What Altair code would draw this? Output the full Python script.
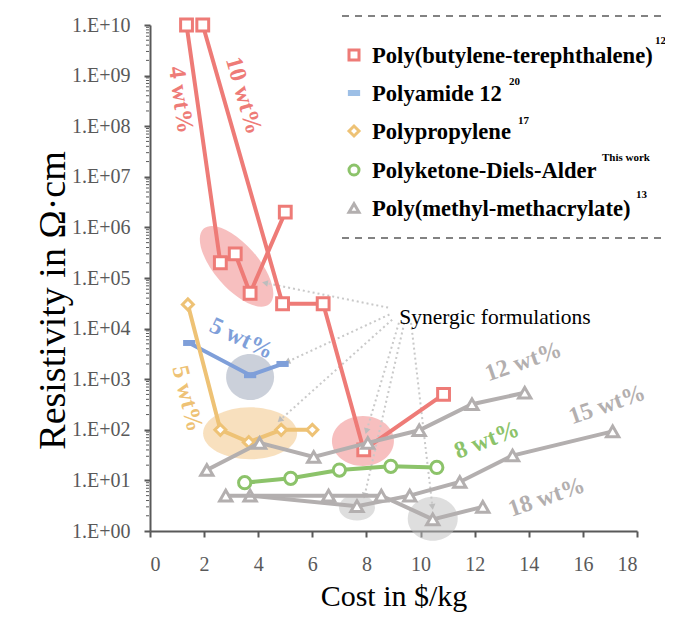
import json
import altair as alt
import pandas as pd

# ---------------- data ----------------
pbt4_x = [1.35, 2.6, 3.15, 3.7, 5.0]
pbt4_y = [1e10, 2e5, 3e5, 5e4, 2e6]
pbt10_x = [1.95, 4.9, 6.4, 7.9, 10.85]
pbt10_y = [1e10, 3.1e4, 3.1e4, 40, 500]
pa12_x = [1.45, 3.7, 4.9]
pa12_y = [5.2e3, 1.2e3, 2.0e3]
pp_x = [1.4, 2.6, 3.65, 4.85, 6.0]
pp_y = [3e4, 100, 57, 100, 100]
pkda_x = [3.5, 5.2, 7.0, 8.9, 10.6]
pkda_y = [9, 11, 16, 19, 18]
pmma12_x = [2.1, 4.05, 6.05, 8.05, 9.95, 11.9, 13.85]
pmma12_y = [16, 55, 29, 55, 98, 320, 540]
pmma15_x = [3.7, 7.65, 9.6, 11.45, 13.4, 17.1]
pmma15_y = [5, 3.1, 5, 9.3, 31, 93]
pmma18_x = [2.8, 6.6, 8.55, 10.45, 12.3]
pmma18_y = [5, 5, 5, 1.7, 3]

# highlighted "synergic" regions (centres in data units)
hl_x = [3.2, 3.7, 3.7, 7.87, 7.65, 10.45]
hl_y = [1.7e5, 1.1e3, 85, 60, 2.9, 1.75]

# dotted pointer lines from the "Synergic formulations" note
syn_x1 = [8.8, 8.85, 8.95, 9.2, 9.4, 9.65]
syn_y1 = [2.6e4, 1.9e4, 1.5e4, 1.3e4, 1.3e4, 1.3e4]
syn_x2 = [4.25, 5.07, 4.8, 8.0, 7.93, 10.44]
syn_y2 = [8e4, 2.2e3, 155, 94, 5.0, 3.0]

# in-plot labels
ann_text = ["4 wt%", "10 wt%", "5 wt%", "5 wt%", "8 wt%", "12 wt%", "15 wt%", "18 wt%"]
ann_x = [1.13, 3.45, 3.38, 1.37, 12.45, 13.8, 16.9, 14.66]
ann_y = [3.3e8, 4e8, 6.3e3, 410, 62, 2200, 310, 4.6]
note_text = ["Synergic formulations"]
note_x = [12.75]
note_y = [1.6e4]

legend_names = ["Poly(butylene-terephthalene)", "Polyamide 12", "Polypropylene",
                "Polyketone-Diels-Alder", "Poly(methyl-methacrylate)"]
legend_refs = ["12", "20", "17", "This work", "13"]

x_ticks = [0, 2, 4, 6, 8, 10, 12, 14, 16, 18]
y_ticks = [1e0, 1e1, 1e2, 1e3, 1e4, 1e5, 1e6, 1e7, 1e8, 1e9, 1e10]
y_tick_labels = ["1.E+00", "1.E+01", "1.E+02", "1.E+03", "1.E+04", "1.E+05",
                 "1.E+06", "1.E+07", "1.E+08", "1.E+09", "1.E+10"]
y_minor = [k * 10 ** d for d in range(10) for k in range(2, 10)]

# ---------------- styles ----------------
RED = "#EE7B77"
BLUE = "#7F9FD9"
BLUE_LEG = "#9DBFE6"
YEL = "#EEC275"
GRN = "#8CC36A"
GRY = "#B3AFAF"
AX = "#595959"
SERIF = "Liberation Serif"

hl_rx = [50, 24, 47, 31, 18, 25]
hl_ry = [22, 23, 26, 25, 13, 22]
hl_angle = [49, 0, 0, 0, 0, 0]
hl_color = ["#F08080", "#98A2B5", "#F2C27E", "#F08080", "#BDBDBD", "#BDBDBD"]
arrow_angle = [281, 245, 228, 197, 193, 173]
ann_color = [RED, RED, BLUE, YEL, GRN, GRY, GRY, GRY]
ann_angle = [82, 74, 25, 76, 339, 341, 341, 341]

xs = alt.Scale(domain=[0, 18], nice=False, zero=False)
ys = alt.Scale(type="log", domain=[1, 1e10], nice=False)

XAX = alt.Axis(values=x_ticks, format="d", title="Cost in $/kg", tickSize=6,
               labelPadding=17, titleY=74, titleBaseline="alphabetic",
               titleFontSize=30)
YAX = alt.Axis(values=y_ticks, title="Resistivity in Ω·cm", tickSize=6,
               labelPadding=14,
               labelExpr=json.dumps(y_tick_labels) + "[round(log(datum.value)/LN10)]",
               titleX=-97, titleY=275, titleBaseline="middle", titleAlign="center",
               titleFontSize=38)


def X(f):
    return alt.X(f, scale=xs, axis=XAX)


def Y(f):
    return alt.Y(f, scale=ys, axis=YAX)


def ellipse_path(rx, ry):
    r = ry / rx
    k = 0.5523
    return (f"M -1 0 C -1 {-k*r:.4f} {-k:.4f} {-r:.4f} 0 {-r:.4f} "
            f"C {k:.4f} {-r:.4f} 1 {-k*r:.4f} 1 0 "
            f"C 1 {k*r:.4f} {k:.4f} {r:.4f} 0 {r:.4f} "
            f"C {-k:.4f} {r:.4f} -1 {k*r:.4f} -1 0 Z")


layers = []

# highlight ellipses
for i in range(len(hl_x)):
    df = pd.DataFrame({"x": [hl_x[i]], "y": [hl_y[i]]})
    layers.append(
        alt.Chart(df).mark_point(
            shape=ellipse_path(hl_rx[i], hl_ry[i]), size=(2 * hl_rx[i]) ** 2,
            angle=hl_angle[i], filled=True, fill=hl_color[i], fillOpacity=0.5,
            opacity=1, strokeWidth=0,
        ).encode(x=X("x:Q"), y=Y("y:Q"))
    )

# dotted pointers
syn_df = pd.DataFrame({"x1": syn_x1, "y1": syn_y1, "x2": syn_x2, "y2": syn_y2,
                       "a": arrow_angle})
layers.append(
    alt.Chart(syn_df).mark_rule(color="#C9C9C9", strokeWidth=2, strokeDash=[2, 3]).encode(
        x=X("x1:Q"), y=Y("y1:Q"), x2="x2:Q", y2="y2:Q")
)
layers.append(
    alt.Chart(syn_df).mark_point(shape="triangle-up", filled=True, color="#BDBDBD",
                                 size=45, opacity=1).encode(
        x=X("x2:Q"), y=Y("y2:Q"), angle=alt.Angle("a:Q", scale=None))
)


def series(xv, yv, color, shape, size, sw=3, lw=4):
    df = pd.DataFrame({"x": xv, "y": yv, "i": list(range(len(xv)))})
    base = alt.Chart(df).encode(x=X("x:Q"), y=Y("y:Q"), order="i:Q")
    out = [base.mark_line(color=color, strokeWidth=lw)]
    if shape == "stroke":
        out.append(base.mark_point(shape="stroke", size=size, stroke=color,
                                   strokeWidth=6, opacity=1))
    else:
        out.append(base.mark_point(shape=shape, size=size, filled=True, fill="white",
                                   stroke=color, strokeWidth=sw, opacity=1))
    return out


layers += series(pbt4_x, pbt4_y, RED, "square", 140)
layers += series(pbt10_x, pbt10_y, RED, "square", 140)
layers += series(pa12_x, pa12_y, BLUE, "stroke", 150)
layers += series(pp_x, pp_y, YEL, "diamond", 120)
layers += series(pkda_x, pkda_y, GRN, "circle", 150)
layers += series(pmma12_x, pmma12_y, GRY, "triangle-up", 150)
layers += series(pmma15_x, pmma15_y, GRY, "triangle-up", 150)
layers += series(pmma18_x, pmma18_y, GRY, "triangle-up", 150)

# in-plot labels
ann_df = pd.DataFrame({"t": ann_text, "x": ann_x, "y": ann_y, "c": ann_color, "a": ann_angle})
layers.append(
    alt.Chart(ann_df).mark_text(font=SERIF, fontWeight="bold", fontSize=24,
                                align="center", baseline="middle").encode(
        x=X("x:Q"), y=Y("y:Q"),
        text="t:N", color=alt.Color("c:N", scale=None), angle=alt.Angle("a:Q", scale=None))
)
note_df = pd.DataFrame({"t": note_text, "x": note_x, "y": note_y})
layers.append(
    alt.Chart(note_df).mark_text(font=SERIF, fontSize=21.5, color="black",
                                 align="center", baseline="middle").encode(
        x=X("x:Q"), y=Y("y:Q"), text="t:N")
)

# minor ticks on the log axis
minor_df = pd.DataFrame({"v": y_minor})
layers.append(
    alt.Chart(minor_df).mark_rule(color=AX, strokeWidth=1).encode(
        y=Y("v:Q"), x=alt.value(-4), x2=alt.value(-1))
)

# ---------------- legend (hand-built) ----------------
leg_y = [30, 68, 106, 145, 183]
leg_shape = ["square", "stroke", "diamond", "circle", "triangle-up"]
leg_color = [RED, BLUE_LEG, YEL, GRN, GRY]
sup_pos = [(505, 19), (359, 60), (368, 99), (452, 136), (486, 173)]
one = pd.DataFrame({"d": [0]})
for yy in [-9, 213]:
    layers.append(alt.Chart(one).mark_rule(color=AX, strokeWidth=1.5, strokeDash=[7, 6]).encode(
        x=alt.value(192), x2=alt.value(515), y=alt.value(yy)))
for i, name in enumerate(legend_names):
    if leg_shape[i] == "stroke":
        sym = alt.Chart(one).mark_point(shape="stroke", size=150, stroke=leg_color[i],
                                        strokeWidth=6, opacity=1)
    else:
        sym = alt.Chart(one).mark_point(shape=leg_shape[i], size=100, filled=True,
                                        fill="white", stroke=leg_color[i], strokeWidth=3,
                                        opacity=1)
    layers.append(sym.encode(x=alt.value(204), y=alt.value(leg_y[i])))
    layers.append(
        alt.Chart(pd.DataFrame({"t": [name]})).mark_text(
            font=SERIF, fontWeight="bold", fontSize=22.6, align="left",
            baseline="alphabetic", color="black").encode(
            text="t:N", x=alt.value(222), y=alt.value(leg_y[i] + 8)))
    layers.append(
        alt.Chart(pd.DataFrame({"t": [legend_refs[i]]})).mark_text(
            font=SERIF, fontWeight="bold", fontSize=11, align="left",
            baseline="alphabetic", color="black").encode(
            text="t:N", x=alt.value(sup_pos[i][0]), y=alt.value(sup_pos[i][1])))

chart = alt.layer(*layers).properties(
    width=487, height=506,
    padding={"left": 142, "top": 17, "right": 28, "bottom": 82},
    autosize=alt.AutoSizeParams(type="none"),
).configure_view(stroke=None).configure_axis(
    grid=False, labelFont=SERIF, labelFontSize=20, labelColor=AX,
    titleFont=SERIF, titleFontWeight="normal", titleColor="black",
    domainColor=AX, domainWidth=2, tickColor=AX, tickWidth=2,
)

chart.save("out.html", embed_options={"renderer": "svg", "actions": False})
